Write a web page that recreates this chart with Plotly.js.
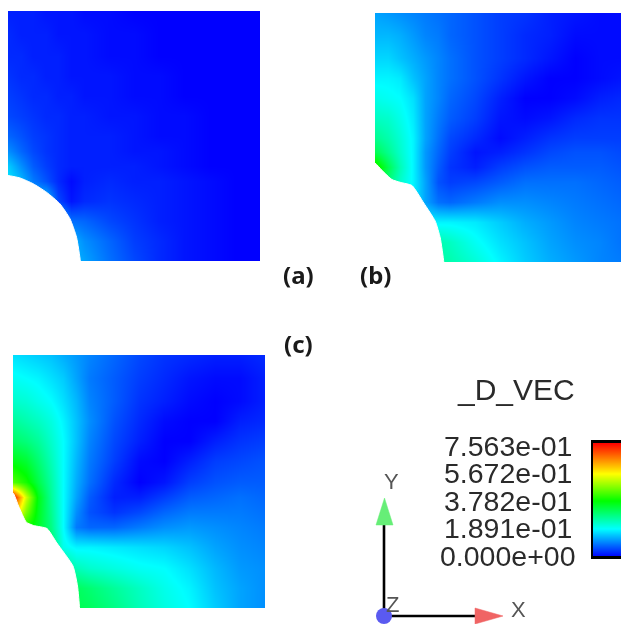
<!DOCTYPE html>
<html>
<head>
<meta charset="utf-8">
<script src="https://cdn.plot.ly/plotly-3.0.1.min.js"></script>
<style>html,body{margin:0;padding:0;background:#fff;overflow:hidden}#plot{width:621px;height:624px;filter:blur(0.45px)}</style>
</head>
<body>
<div id="plot"></div>
<script>
const gridX = [0,.05,.1,.15,.2,.25,.3,.4,.5,.6,.7,.8,.9,1];
const gridY = [0,.08,.16,.24,.32,.38,.44,.5,.58,.66,.74,.82,.91,1];

const zA = [
[20,20,20,20,20,18,16,11,7,4,2,1,0,0],
[20,20,20,20,20,18,14,10,6,4,2,1,0,0],
[20,20,20,20,20,11,10,7,5,3,2,1,0,0],
[20,20,20,20,7,2,4,5,4,3,2,1,0,0],
[23,18,12,8,4,1,3,4,3,3,2,1,0,0],
[20,14,9,6,4,3,3,3,3,2,1,0,0,0],
[14,10,7,5,4,3,3,3,2,2,1,0,0,0],
[10,8,6,5,4,3,3,3,2,1,1,0,0,0],
[7,6,5,4,4,3,3,2,2,1,1,0,0,0],
[6,5,4,4,3,3,2,2,1,1,0,0,0,0],
[5,4,4,3,3,2,2,2,1,1,0,0,0,0],
[4,4,3,3,3,2,2,1,1,0,0,0,0,0],
[4,3,3,3,2,2,2,1,1,0,0,0,0,0],
[3,3,3,2,2,2,1,1,0,0,0,0,0,0]];

const zB = [
[34,34,34,34,34,34,33,29,24,20,17,15,13,12],
[34,34,34,34,34,33,31,26,22,19,16,14,13,11],
[28,28,28,27,24,24,24,23,20,17,15,13,12,11],
[35,35,30,24,16,11,10,12,14,14,13,12,11,10],
[46,38,30,24,16,8,6,7,9,11,11,11,10,9],
[55,42,32,24,15,9,5,3,6,8,9,9,9,8],
[42,36,30,24,15,10,6,2,3,5,7,8,8,7],
[36,33,29,24,16,11,7,4,1,3,5,6,6,6],
[31,30,27,23,16,12,9,6,2,1,2,4,5,5],
[27,26,25,22,16,13,10,7,3,0,0,1,3,4],
[24,24,23,19,16,13,11,8,5,2,0,0,1,2],
[21,21,19,17,15,13,11,8,6,4,2,0,1,1],
[18,18,17,15,13,12,10,8,6,4,3,1,1,1],
[16,15,14,13,12,11,10,8,6,5,3,2,1,1]];

const zC = [
[42,42,42,42,42,42,41,37,32,28,25,20,16,14],
[42,42,42,42,42,41,39,35,31,27,24,19,16,14],
[42,42,42,42,37,32,30,28,26,25,22,18,15,14],
[50,50,48,40,27,24,24,23,22,21,19,16,14,13],
[60,52,46,37,25,12,10,10,12,14,15,14,13,12],
[85,62,47,36,25,14,8,5,7,10,12,12,12,11],
[100,70,48,35,25,16,9,3,3,6,9,10,11,10],
[58,52,43,34,25,17,11,4,0,2,6,8,9,9],
[48,45,39,32,25,18,12,6,1,0,3,6,7,8],
[40,38,35,30,25,19,13,7,3,0,0,3,5,6],
[35,33,31,28,24,19,14,8,4,1,0,0,3,4],
[30,29,27,25,22,18,13,9,5,3,1,0,1,3],
[26,25,24,22,20,16,12,9,6,4,2,1,1,3],
[22,21,20,19,17,15,13,10,7,5,4,3,3,4]];

const holeAX = [-.03,0,.048,.1,.153,.206,.246,.272,.287,.287,-.03,-.03];
const holeAY = [.342,.342,.332,.309,.275,.229,.169,.095,0,-.03,-.03,.342];
const holeBX = [-.03,0,.028,.068,.101,.148,.195,.241,.261,.275,.275,-.03,-.03];
const holeBY = [.397,.397,.368,.331,.32,.307,.237,.164,.097,0,-.03,-.03,.397];
const holeCX = [-.03,0,.022,.053,.082,.135,.174,.238,.256,.264,.264,-.03,-.03];
const holeCY = [.455,.455,.403,.339,.326,.314,.257,.166,.087,0,-.03,-.03,.455];

const legendTitle = "_D_VEC";
const legendLabels = ["7.563e-01","5.672e-01","3.782e-01","1.891e-01","0.000e+00"];
const legendLevels = [100,75,50,25,0];
const barY = [0,25,50,75,103];
const barZ = [[0,0],[25,25],[50,50],[75,75],[100,100]];

const rainbow = [[0,"#0000ff"],[.25,"#00ffff"],[.5,"#00ff00"],[.75,"#ffff00"],[1,"#ff0000"]];
const W = 621, H = 624;
const dx = (a,b) => [a/W, b/W];
const dy = (top,bot) => [1-bot/H, 1-top/H];
const hidden = {visible:false, showgrid:false, zeroline:false, fixedrange:true};

function heat(z, xa, ya){
  return {type:"heatmap", x:gridX, y:gridY, z:z, xaxis:xa, yaxis:ya, zsmooth:"best",
          colorscale:rainbow, zmin:0, zmax:100, showscale:false, hoverinfo:"skip"};
}
function hole(x, y, xa, ya){
  return {type:"scatter", mode:"lines", x:x, y:y, xaxis:xa, yaxis:ya, fill:"toself", fillcolor:"#fff",
          cliponaxis:false, line:{color:"#fff", width:1, shape:"spline", smoothing:0.5},
          hoverinfo:"skip", showlegend:false};
}
function poly(x, y, color){
  return {type:"scatter", mode:"lines", x:x, y:y, xaxis:"x5", yaxis:"y5", fill:"toself", fillcolor:color,
          line:{color:color, width:0.5}, hoverinfo:"skip", showlegend:false};
}
function stroke(x, y){
  return {type:"scatter", mode:"lines", x:x, y:y, xaxis:"x5", yaxis:"y5",
          line:{color:"#000", width:2.6}, hoverinfo:"skip", showlegend:false};
}

const traces = [
  heat(zA,"x","y"), hole(holeAX,holeAY,"x","y"),
  heat(zB,"x2","y2"), hole(holeBX,holeBY,"x2","y2"),
  heat(zC,"x3","y3"), hole(holeCX,holeCY,"x3","y3"),
  {type:"heatmap", x:[0,1], y:barY, z:barZ, xaxis:"x4", yaxis:"y4", zsmooth:"best",
   colorscale:rainbow, zmin:0, zmax:100, showscale:false, hoverinfo:"skip"},
  stroke([384,384],[616,525]),
  stroke([384,476],[616,616]),
  poly([376,393,384.5,376],[525,525,498,525],"#66ee77"),
  poly([475,475,503,475],[608,624,616,608],"#f06464"),
  {type:"scatter", mode:"markers", x:[384], y:[616], xaxis:"x5", yaxis:"y5",
   marker:{size:16, color:"#5a5af0"}, hoverinfo:"skip", showlegend:false}
];

const labelFont = {family:"'Noto Sans', sans-serif", size:24, color:"#1a1a1a"};
const legendFont = {family:"'Liberation Sans', Arial, sans-serif", size:28.5, color:"#2a2a2a"};
const titleFont = {family:"'Liberation Sans', Arial, sans-serif", size:30, color:"#2a2a2a"};
const triadFont = {family:"'Liberation Sans', Arial, sans-serif", size:22, color:"#555"};

function paperText(text, px, py, font){
  return {text:text, xref:"paper", yref:"paper", x:px/W, y:1-py/H, showarrow:false, font:font,
          xanchor:"center", yanchor:"middle"};
}
function triadText(text, px, py){
  return {text:text, xref:"x5", yref:"y5", x:px, y:py, showarrow:false, font:triadFont,
          xanchor:"center", yanchor:"middle"};
}

const annotations = [
  paperText("<b>(a)</b>",298,274,labelFont),
  paperText("<b>(b)</b>",375,274,labelFont),
  paperText("<b>(c)</b>",298,343,labelFont),
  paperText(legendTitle,516,389,titleFont),
  triadText("X",518,609),
  triadText("Y",391,481),
  triadText("Z",392,604)
];
legendLabels.forEach((t,i)=>{
  annotations.push({text:t, xref:"paper", yref:"y4", x:508/W, y:legendLevels[i], showarrow:false,
    font:legendFont, xanchor:"center", yanchor:"middle"});
});

const layout = {
  width:W, height:H, margin:{l:0,r:0,t:0,b:0},
  paper_bgcolor:"#fff", plot_bgcolor:"rgba(0,0,0,0)", showlegend:false,
  xaxis: {...hidden, anchor:"y", domain:dx(8,260), range:[0,1]},
  yaxis: {...hidden, anchor:"x", domain:dy(11,261), range:[0,1]},
  xaxis2:{...hidden, anchor:"y2", domain:dx(375,621), range:[0,246/250]},
  yaxis2:{...hidden, anchor:"x2", domain:dy(13,262), range:[0,1]},
  xaxis3:{...hidden, anchor:"y3", domain:dx(13,265), range:[0,1]},
  yaxis3:{...hidden, anchor:"x3", domain:dy(355,608), range:[0,1]},
  xaxis4:{anchor:"y4", domain:dx(593,621), range:[0,1], showticklabels:false, ticks:"", showgrid:false, zeroline:false,
          showline:true, linecolor:"#000", linewidth:2.5, mirror:true, fixedrange:true},
  yaxis4:{anchor:"x4", domain:dy(442.5,556), range:[0,103], showticklabels:false, ticks:"", showgrid:false, zeroline:false,
          showline:true, linecolor:"#000", linewidth:2.5, mirror:true, fixedrange:true},
  xaxis5:{...hidden, anchor:"y5", domain:[0,1], range:[0,W]},
  yaxis5:{...hidden, anchor:"x5", domain:[0,1], range:[H,0]},
  annotations:annotations
};
Plotly.newPlot("plot", traces, layout, {displayModeBar:false, staticPlot:true});
</script>
</body>
</html>
